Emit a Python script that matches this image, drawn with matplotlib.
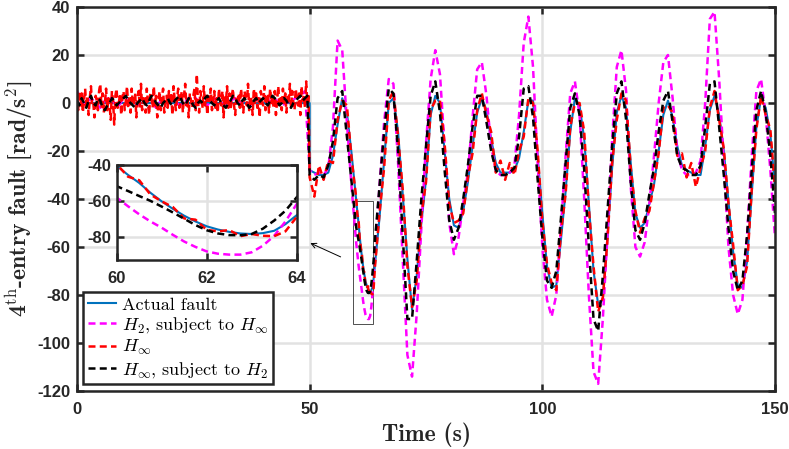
import numpy as np
import matplotlib
matplotlib.use("Agg")
import matplotlib.pyplot as plt
from matplotlib.patches import Rectangle

plt.rcParams['font.family'] = 'Liberation Sans'
plt.rcParams['font.weight'] = 'bold'
plt.rcParams['mathtext.fontset'] = 'cm'
plt.rcParams['axes.unicode_minus'] = False

# ---- before the fault (t < 50) ----
red_pre = [2, -3, 5, -1, 4, -4, 1, 6, -2, 3, -5, 2, 7, -1, 0, -6, 3, 1, -3, 5,
           8, -2, 4, -4, 0, 6, -3, 2, -1, -7, 5, 1, -9, 3, 6, -2, 0, 4, -5, 2,
           5, -3, 1, 7, -2, 3, -4, 6, 0, -1, 4, -6, 2, 5, -2, 8, -3, 1, 3, -4,
           6, 0, -5, 4, 2, -2, 7, -1, 3, -6, 1, 5, -3, 2, 6, -4, 0, 3, -2, 5,
           -1, 4, -5, 7, 1, -3, 2, 6, -2, 0, 5, -4, 3, 8, -1, 2, -6, 4, 1, -2,
           3, 6, -3, 12, 0, -4, 5, 2, -2, 7, -1, 3, -5, 4, 1, 6, -3, 0, 5, -2,
           2, -4, 6, 1, -1, 5, -6, 3, 0, 7, -2, 4, -3, 2, 6, -1, -5, 3, 1, 4,
           -2, 6, 0, -4, 5, 2, -1, 8, -3, 3, 1, -5, 6, 0, 4, -2, 2, -6, 5, 1,
           -1, 7, -3, 2, 4, -4, 6, 0, 3, -2, 5, -5, 1, 7, -1, 2, -3, 6, 0, 4,
           -4, 3, 1, 8, -2, 5, 0, -3, 6, 2, -1, 4, -5, 7, 1, 3, -2, 9, 0, 4]
black_pre = [1, -1, 2, 0, -2, 1, 3, 0, -1, 2, 1, -2, -3, -1, 0, 2, 1, -1, 0, 1,
             2, 3, 1, 0, -1, -2, 0, 1, 2, 0, -1, 1, 3, 2, 0, -1, -2, 0, 1, 2,
             0, -1, 1, 2, 3, 1, -1, 0, 2, 1, -1, -2, 0, 1, 0, 2, 3, 1, 0, -1,
             1, 2, 0, -1, -2, 0, 1, 3, 2, 0, -1, 1, 2, 0, -2, -1, 1, 2, 0, 1,
             2, 0, -1, 1, 3, 2, 1, -1, 0, 2, 1, -1, -2, 0, 1, 2, 3, 1, 2, 3]
mag_pre = [5, 1, -1, 2, 0, -2, 1, 3, 0, -1, 2, 1, 0, -1, 1, 2, 0, -2, 1, 0,
           2, 1, -1, 0, 2, 3, 1, 0, -1, 1, 2, 0, -1, 1, 2, 0, 1, -1, 0, 2,
           1, 0, 2, 1, -1, 0, 1, 2, 3, 5]

# ---- after the fault (t = 50..150, finer 60..64) ----
actual = [-28, -29, -30, -30, -29, -22, -9, 2, -4, -21,
          -40.5, -45.5, -50, -55.5, -60.3, -64.5, -68.3, -71.5, -74.2, -76, -77.3, -78.2, -78.5, -78, -76.7, -73, -68,
          -48, -24, 0, 2, -12, -38, -65, -86, -72, -50,
          -32, -5, 3, 0, -20, -40, -51, -52, -45, -33,
          -18, -4, 2, -3, -15, -25, -29, -29, -29, -28,
          -23, -12, 1, 1, -22, -46, -68, -77, -76, -57,
          -37, -12, 2, -1, -15, -42, -70, -84, -82, -56,
          -27, -4, 3, -2, -25, -46, -52, -50, -42, -34,
          -20, -5, 1, -6, -18, -26, -28, -29, -30, -30,
          -18, -3, 3, -5, -20, -41, -62, -76, -77, -66,
          -38, -10, 2, -2, -13, -35]
h2_sub_hinf = [-28, -30, -29, -30, -27, -10, 26, 22, -8, -35,
               -58.2, -63, -67.5, -71.5, -75, -79, -82.7, -85.7, -88.2, -89.5, -90, -90, -88.7, -85, -79.5, -71.5, -61.8,
               -35, -8, 10, 8, -25, -65, -105, -114, -88, -52,
               -17, 10, 22, 12, -18, -50, -63, -56, -42, -29,
               -6, 14, 17, 3, -18, -28, -30, -30, -29, -26,
               -5, 25, 36, 15, -25, -60, -82, -89, -80, -52,
               -22, 4, 9, -5, -40, -80, -112, -117, -90, -55,
               -15, 15, 22, 5, -35, -60, -64, -58, -42, -22,
               0, 17, 20, 2, -20, -28, -30, -30, -29, -24,
               0, 35, 38, 10, -25, -60, -80, -88, -82, -55,
               -22, 5, 10, -5, -28, -56]
hinf_dev = [-3, -10, 4, -2, 5, -3, 2, -1, 3, -2,
            1, -1, 1.5, -1, 0, 1, -1.5, 1, -2, -1, 1, -1.5, 0, -1.5, -3, -4, -1,
            2, -3, 1, 3, -2, 2, -3, 1, -2, 3,
            -1, 2, -2, 1, 3, -2, 1, 3, -1, 2,
            -3, 1, 2, -2, 3, -4, 5, -3, 4, -2,
            3, -2, 1, -1, 2, -3, 1, 2, -2, 3,
            -1, 2, -2, 1, 3, -2, 2, -3, 1, -1,
            2, -3, 1, 3, -2, 1, -2, 2, -3, 1,
            -1, 3, -2, 2, -4, 5, -3, 4, -5, 3,
            -2, 1, 2, -2, 1, -1, 3, -2, 1, -2,
            2, -1, 1, -3, 2, -1]
hinf_sub_h2 = [-30, -32, -30, -31, -26, -16, 2, 5, -14, -33,
               -51.8, -54.5, -57.3, -60, -63.2, -66.5, -70, -73.5, -76.4, -78.2, -79.1, -79.2, -78.5, -75.5, -71, -65.5, -58,
               -35, -12, 6, 4, -20, -55, -90, -90, -66, -40,
               -18, 3, 9, -4, -28, -49, -57, -52, -40, -26,
               -10, 3, 3, -8, -20, -28, -30, -30, -29, -27,
               -14, 6, 7, -6, -32, -56, -74, -77, -70, -48,
               -25, -2, 4, -5, -28, -60, -90, -95, -72, -45,
               -18, 4, 9, -7, -33, -53, -57, -50, -38, -27,
               -12, 1, 5, -8, -22, -27, -28, -30, -30, -26,
               -10, 8, 9, -10, -30, -52, -70, -78, -74, -55,
               -28, -3, 5, -4, -22, -46]

t_main = np.concatenate([np.arange(50, 60), np.arange(60, 64.01, 0.25), np.arange(65, 151)])
t_red_pre = np.arange(len(red_pre)) * 0.25
t_blk_pre = np.arange(len(black_pre)) * 0.5
t_mag_pre = np.arange(len(mag_pre)) * 1.0

t_blue = np.concatenate([[0, 50], t_main])
y_blue = np.concatenate([[0, 0], actual])
t_mag = np.concatenate([t_mag_pre, t_main])
y_mag = np.concatenate([mag_pre, h2_sub_hinf])
t_red = np.concatenate([t_red_pre, t_main])
y_red = np.concatenate([red_pre, np.array(actual) + np.array(hinf_dev)])
t_blk = np.concatenate([t_blk_pre, t_main])
y_blk = np.concatenate([black_pre, hinf_sub_h2])

labels = ['Actual fault', r'$H_2$, subject to $H_\infty$', r'$H_\infty$', r'$H_\infty$, subject to $H_2$']
dk = '#262626'


def draw(a):
    a.plot(t_blue, y_blue, color='#0072BD', lw=1.5, label=labels[0])
    a.plot(t_mag, y_mag, color='#FF00FF', lw=1.8, ls='--', dashes=(2.8, 1.7), label=labels[1])
    a.plot(t_red, y_red, color='#FF0000', lw=1.8, ls='--', dashes=(2.8, 1.7), label=labels[2])
    a.plot(t_blk, y_blk, color='black', lw=1.8, ls='--', dashes=(2.8, 1.7), label=labels[3])
    a.grid(True, color='#e2e2e2', lw=1.8)
    a.set_axisbelow(True)
    for s in a.spines.values():
        s.set_linewidth(1.8)
        s.set_color(dk)
    a.tick_params(direction='in', length=5, width=1.8, top=True, right=True,
                  colors=dk, labelsize=12)


fig = plt.figure(figsize=(7.89, 4.49), dpi=100)
ax = fig.add_axes([77 / 789, 1 - 391 / 449, 698 / 789, 384 / 449])
draw(ax)
ax.set_xlim(0, 150)
ax.set_ylim(-120, 40)
ax.set_xticks([0, 50, 100, 150])
ax.set_yticks(np.arange(-120, 41, 20))
ax.tick_params(axis='x', pad=8)
ax.tick_params(axis='y', pad=5)
ax.set_xlabel('Time (s)', fontfamily='cmb10', fontweight='normal', fontsize=17, color=dk, labelpad=4)
ax.set_ylabel(r'4$^{\mathrm{th}}$-entry fault [rad/s$^2$]', fontfamily='cmb10', fontweight='normal',
              fontsize=17, color=dk, labelpad=2)

ax.add_patch(Rectangle((59.3, -92), 4.3, 51, fill=False, lw=0.6, ec='#333333'))
ax.annotate('', xy=(49.6, -57.9), xytext=(57.2, -64.6),
            arrowprops=dict(arrowstyle='->', color='black', lw=0.7, mutation_scale=9))

leg = ax.legend(loc='lower left', bbox_to_anchor=(0.0086, 0.018), borderaxespad=0,
                prop={'family': 'cmr10', 'size': 13, 'weight': 'normal'},
                fancybox=False, framealpha=1, edgecolor=dk, handlelength=1.6,
                handletextpad=0.3, labelspacing=0.15, borderpad=0.25)
leg.get_frame().set_linewidth(1.8)

axin = fig.add_axes([116.7 / 789, 1 - 260 / 449, 180 / 789, 95 / 449])
draw(axin)
axin.set_xlim(60, 64)
axin.set_ylim(-93, -40)
axin.set_xticks([60, 62, 64])
axin.set_yticks([-80, -60, -40])
axin.tick_params(axis='x', pad=8)
axin.tick_params(axis='y', pad=4)

fig.savefig('out.png', dpi=100)
